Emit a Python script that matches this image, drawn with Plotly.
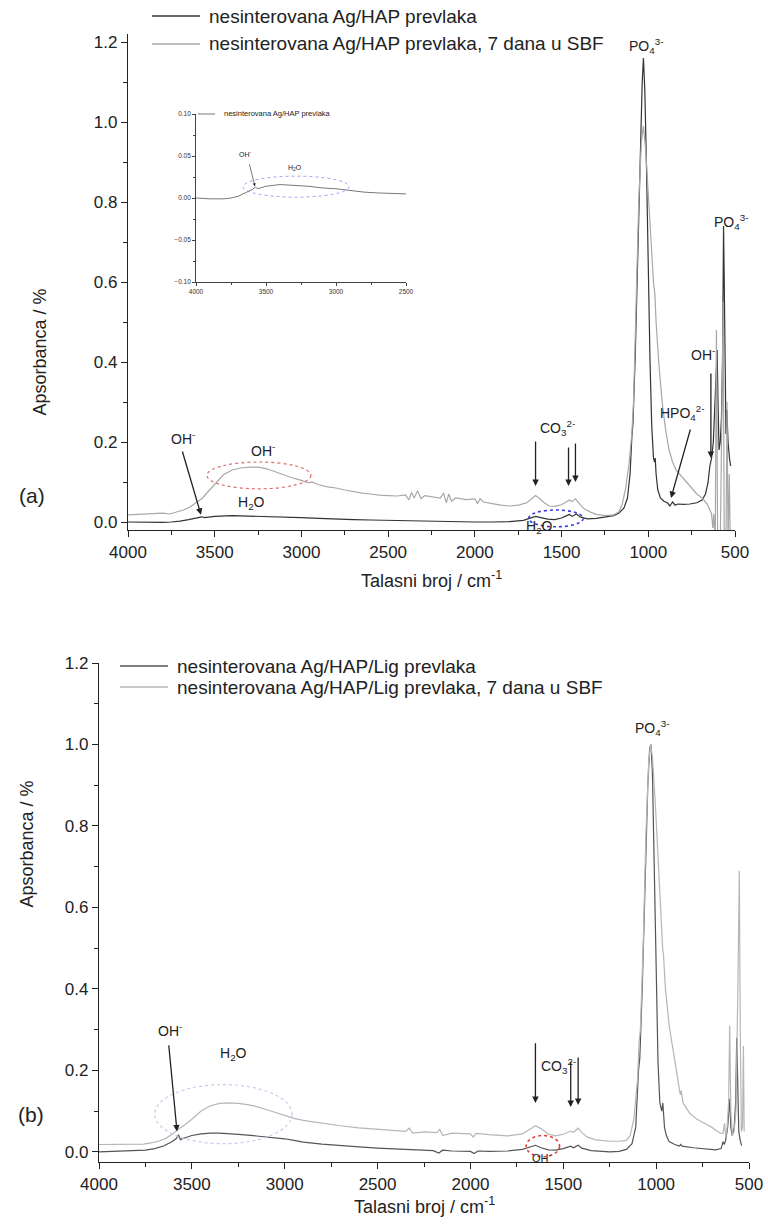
import plotly.graph_objects as go

W, H = 768, 1230
FONT = "Liberation Sans, Arial, sans-serif"
INK = "#222222"

# ---- (a) nesinterovana Ag/HAP prevlaka ----
wn_hap = [4000, 3900, 3800, 3750, 3700, 3650, 3600, 3575, 3560, 3500, 3400, 3300, 3200,
          3100, 3000, 2900, 2800, 2700, 2600, 2500, 2400, 2350, 2300, 2200, 2100, 2000,
          1900, 1800, 1720, 1680, 1650, 1620, 1580, 1540, 1500, 1470, 1455, 1440, 1425,
          1415, 1390, 1350, 1300, 1250, 1200, 1170, 1140, 1120, 1105, 1095, 1088, 1075,
          1060, 1045, 1035, 1028, 1020, 1010, 1000, 990, 980, 970, 964, 960, 955, 945,
          930, 910, 890, 875, 868, 860, 845, 830, 800, 760, 720, 690, 670, 655, 645, 635,
          625, 615, 608, 603, 598, 592, 585, 578, 572, 566, 562, 557, 552, 547, 540, 532,
          525]
abs_hap = [0.000, -0.001, -0.001, 0.000, 0.002, 0.006, 0.010, 0.013, 0.011, 0.014, 0.016,
           0.015, 0.014, 0.012, 0.011, 0.009, 0.007, 0.006, 0.005, 0.004, 0.003, 0.002,
           0.002, 0.001, 0.000, 0.000, 0.000, 0.001, 0.004, 0.010, 0.014, 0.011, 0.007,
           0.006, 0.010, 0.016, 0.019, 0.014, 0.018, 0.020, 0.012, 0.008, 0.009, 0.012,
           0.016, 0.022, 0.035, 0.060, 0.120, 0.210, 0.250, 0.420, 0.700, 0.950, 1.100,
           1.160, 1.080, 0.880, 0.620, 0.400, 0.240, 0.160, 0.150, 0.160, 0.120, 0.080,
           0.060, 0.052, 0.048, 0.040, 0.045, 0.050, 0.042, 0.045, 0.044, 0.045, 0.048,
           0.055, 0.070, 0.100, 0.140, 0.160, 0.200, 0.300, 0.380, 0.430, 0.300, 0.180,
           0.200, 0.260, 0.400, 0.740, 0.600, 0.320, 0.220, 0.280, 0.200, 0.160, 0.140]

# ---- (a) nesinterovana Ag/HAP prevlaka, 7 dana u SBF ----
wn_hap_sbf = [4000, 3900, 3800, 3760, 3720, 3680, 3640, 3600, 3570, 3540, 3500, 3450, 3400,
              3350, 3300, 3250, 3200, 3150, 3100, 3050, 3000, 2960, 2940, 2900, 2850, 2800,
              2750, 2700, 2650, 2600, 2550, 2500, 2450, 2400, 2380, 2365, 2350, 2330, 2310,
              2290, 2250, 2200, 2180, 2165, 2150, 2135, 2110, 2050, 2000, 1985, 1970, 1950,
              1900, 1850, 1800, 1750, 1700, 1670, 1650, 1630, 1600, 1570, 1540, 1500, 1470,
              1455, 1440, 1420, 1400, 1370, 1330, 1300, 1250, 1200, 1170, 1150, 1130, 1110,
              1095, 1085, 1070, 1055, 1040, 1028, 1015, 1000, 985, 970, 962, 955, 940, 920,
              900, 880, 860, 840, 800, 760, 720, 690, 660, 645, 635, 628, 622, 614, 607, 600,
              585, 568, 562, 552, 546, 540, 533, 527]
abs_hap_sbf = [0.018, 0.020, 0.022, 0.020, 0.025, 0.030, 0.038, 0.050, 0.060, 0.075, 0.095,
               0.118, 0.130, 0.135, 0.137, 0.137, 0.133, 0.125, 0.117, 0.110, 0.104, 0.098,
               0.100, 0.093, 0.088, 0.085, 0.080, 0.076, 0.072, 0.070, 0.067, 0.066, 0.065,
               0.068, 0.055, 0.074, 0.060, 0.078, 0.058, 0.066, 0.064, 0.060, 0.072, 0.048,
               0.070, 0.052, 0.060, 0.056, 0.058, 0.046, 0.058, 0.050, 0.046, 0.042, 0.040,
               0.042, 0.048, 0.060, 0.066, 0.060, 0.048, 0.040, 0.039, 0.043, 0.050, 0.055,
               0.051, 0.058, 0.047, 0.033, 0.024, 0.019, 0.016, 0.018, 0.025, 0.045, 0.085,
               0.150, 0.220, 0.300, 0.550, 0.800, 0.950, 0.990, 0.930, 0.820, 0.700, 0.600,
               0.570, 0.500, 0.400, 0.300, 0.230, 0.180, 0.150, 0.130, 0.110, 0.090, 0.070,
               0.060, 0.045, 0.030, 0.020, -0.015, 0.020, -0.060, 0.480, -0.060, -0.060,
               0.550, -0.060, -0.060, 0.300, -0.060, 0.120, -0.060]

# ---- (b) nesinterovana Ag/HAP/Lig prevlaka ----
wn_lig = [4000, 3900, 3800, 3750, 3700, 3650, 3610, 3585, 3572, 3562, 3540, 3500, 3450, 3400,
          3350, 3300, 3250, 3200, 3100, 3000, 2950, 2900, 2800, 2700, 2600, 2500, 2400, 2300,
          2200, 2170, 2150, 2100, 2000, 1980, 1960, 1900, 1800, 1720, 1680, 1650, 1620, 1580,
          1540, 1500, 1460, 1445, 1420, 1400, 1350, 1300, 1250, 1200, 1160, 1130, 1110, 1095,
          1088, 1075, 1060, 1045, 1035, 1028, 1020, 1010, 1000, 990, 980, 970, 964, 960, 955,
          945, 930, 900, 875, 868, 860, 800, 720, 680, 650, 640, 633, 625, 615, 608, 603, 598,
          590, 580, 572, 566, 561, 555, 548, 540]
abs_lig = [0.000, 0.001, 0.002, 0.004, 0.008, 0.015, 0.024, 0.032, 0.042, 0.030, 0.034, 0.040,
           0.044, 0.046, 0.046, 0.045, 0.043, 0.041, 0.037, 0.032, 0.028, 0.024, 0.019, 0.015,
           0.012, 0.009, 0.007, 0.005, 0.003, -0.003, 0.004, 0.002, 0.001, -0.004, 0.002,
           0.001, 0.002, 0.006, 0.012, 0.016, 0.010, 0.005, 0.004, 0.008, 0.014, 0.010, 0.016,
           0.009, 0.003, 0.001, 0.000, 0.001, 0.006, 0.020, 0.060, 0.200, 0.230, 0.400, 0.650,
           0.900, 0.990, 1.000, 0.930, 0.720, 0.450, 0.220, 0.120, 0.100, 0.120, 0.100, 0.060,
           0.040, 0.025, 0.018, 0.014, 0.018, 0.014, 0.010, 0.006, 0.005, 0.008, 0.025, 0.018,
           0.030, 0.060, 0.120, 0.130, 0.060, 0.040, 0.060, 0.120, 0.280, 0.180, 0.050, 0.030,
           0.015]

# ---- (b) nesinterovana Ag/HAP/Lig prevlaka, 7 dana u SBF ----
wn_lig_sbf = [4000, 3900, 3800, 3760, 3720, 3680, 3640, 3600, 3575, 3550, 3500, 3450, 3400,
              3350, 3300, 3250, 3200, 3150, 3100, 3050, 3000, 2950, 2900, 2800, 2700, 2600,
              2500, 2400, 2350, 2330, 2310, 2250, 2180, 2165, 2150, 2100, 2000, 1985, 1970,
              1900, 1800, 1720, 1680, 1650, 1620, 1580, 1540, 1500, 1460, 1445, 1420, 1400,
              1370, 1330, 1300, 1250, 1200, 1160, 1140, 1120, 1100, 1092, 1085, 1070, 1055,
              1040, 1030, 1020, 1005, 990, 975, 965, 960, 950, 930, 910, 890, 875, 870, 865,
              855, 820, 780, 740, 700, 670, 650, 640, 632, 625, 618, 610, 604, 598, 590, 580,
              570, 560, 552, 547, 541, 535, 530, 526]
abs_lig_sbf = [0.018, 0.019, 0.020, 0.019, 0.022, 0.026, 0.033, 0.045, 0.055, 0.062, 0.080,
               0.100, 0.113, 0.119, 0.120, 0.119, 0.116, 0.111, 0.104, 0.097, 0.090, 0.082,
               0.077, 0.070, 0.064, 0.059, 0.055, 0.052, 0.050, 0.058, 0.046, 0.049, 0.047,
               0.055, 0.040, 0.046, 0.044, 0.036, 0.045, 0.042, 0.039, 0.044, 0.056, 0.064,
               0.057, 0.043, 0.039, 0.043, 0.051, 0.048, 0.058, 0.047, 0.036, 0.030, 0.028,
               0.026, 0.026, 0.028, 0.040, 0.080, 0.180, 0.270, 0.300, 0.500, 0.780, 0.960,
               1.000, 0.970, 0.860, 0.720, 0.580, 0.500, 0.480, 0.400, 0.310, 0.250, 0.190,
               0.150, 0.140, 0.150, 0.120, 0.095, 0.080, 0.070, 0.060, 0.050, 0.045, 0.045,
               0.070, 0.035, 0.060, 0.120, 0.310, 0.100, 0.040, 0.050, 0.100, 0.400, 0.690,
               0.300, 0.050, 0.060, 0.260, 0.050]

x_ticks = [4000, 3500, 3000, 2500, 2000, 1500, 1000, 500]
y_ticks = [0.0, 0.2, 0.4, 0.6, 0.8, 1.0, 1.2]
inset_x_ticks = [4000, 3500, 3000, 2500]
inset_y_ticks = [-0.10, -0.05, 0.00, 0.05, 0.10]

LBL_HAP = "nesinterovana Ag/HAP prevlaka"
LBL_HAP_SBF = "nesinterovana Ag/HAP prevlaka, 7 dana u SBF"
LBL_LIG = "nesinterovana Ag/HAP/Lig prevlaka"
LBL_LIG_SBF = "nesinterovana Ag/HAP/Lig prevlaka, 7 dana u SBF"

C_HAP, C_HAP_SBF = "#333333", "#a8a8a8"
C_LIG, C_LIG_SBF = "#555555", "#b6b6b6"
C_INSET = "#555555"


def px_x(p):
    return p / W


def px_y(p):
    return 1 - p / H


fig = go.Figure()


def line(x, y, name, color, xa, ya, width=1.2):
    fig.add_trace(go.Scatter(x=x, y=y, mode="lines", name=name, xaxis=xa, yaxis=ya,
                             showlegend=False, line=dict(color=color, width=width)))


line(wn_hap, abs_hap, LBL_HAP, C_HAP, "x", "y")
line(wn_hap_sbf, abs_hap_sbf, LBL_HAP_SBF, C_HAP_SBF, "x", "y")
line(wn_lig, abs_lig, LBL_LIG, C_LIG, "x2", "y2")
line(wn_lig_sbf, abs_lig_sbf, LBL_LIG_SBF, C_LIG_SBF, "x2", "y2")
line(wn_hap, abs_hap, LBL_HAP, C_INSET, "x3", "y3", width=0.8)

axis_common = dict(showline=True, linecolor=INK, linewidth=1.4, ticks="outside",
                   ticklen=6, tickwidth=1.2, tickcolor=INK, showgrid=False,
                   zeroline=False, mirror=False, automargin=False,
                   tickfont=dict(family=FONT, size=17, color=INK))
minor_x = dict(dtick=250, ticklen=4, tickwidth=1.2, tickcolor=INK, ticks="outside")
minor_y = dict(dtick=0.1, ticklen=4, tickwidth=1.2, tickcolor=INK, ticks="outside")
inset_axis = dict(showline=True, linecolor="#444", linewidth=0.8, ticks="outside",
                  ticklen=3, tickwidth=0.8, tickcolor="#444", showgrid=False,
                  zeroline=False, automargin=False,
                  tickfont=dict(family=FONT, size=6.5, color="#333"))

fig.update_layout(
    width=W, height=H, margin=dict(l=0, r=0, t=0, b=0, autoexpand=False),
    paper_bgcolor="white", plot_bgcolor="white",
    font=dict(family=FONT, color=INK),
    showlegend=False,
    xaxis=dict(axis_common, domain=[px_x(128), px_x(735)], range=[4000, 500],
               tickvals=x_ticks, minor=minor_x, anchor="y"),
    yaxis=dict(axis_common, domain=[px_y(530), px_y(34)], range=[-0.02, 1.22],
               tickvals=y_ticks, tickformat=".1f", minor=minor_y, anchor="x"),
    xaxis2=dict(axis_common, domain=[px_x(99), px_x(749)], range=[4000, 500],
                tickvals=x_ticks, minor=minor_x, anchor="y2"),
    yaxis2=dict(axis_common, domain=[px_y(1162), px_y(663)], range=[-0.025, 1.2],
                tickvals=y_ticks, tickformat=".1f", minor=minor_y, anchor="x2"),
    xaxis3=dict(inset_axis, domain=[px_x(196), px_x(406)], range=[4000, 2500],
                tickvals=inset_x_ticks, anchor="y3",
                minor=dict(dtick=250, ticklen=2, tickcolor="#444", ticks="outside")),
    yaxis3=dict(inset_axis, domain=[px_y(282), px_y(114)], range=[-0.10, 0.10],
                tickvals=inset_y_ticks, tickformat=".2f", anchor="x3",
                minor=dict(dtick=0.025, ticklen=2, tickcolor="#444", ticks="outside")),
)


def text(s, x, y, xr="paper", yr="paper", size=14, color=INK, **kw):
    fig.add_annotation(text=s, x=x, y=y, xref=xr, yref=yr, showarrow=False,
                       font=dict(family=FONT, size=size, color=color), **kw)


def arrow(x, y, ax, ay, xr="x", yr="y", width=1.3):
    fig.add_annotation(x=x, y=y, ax=ax, ay=ay, xref=xr, yref=yr, axref=xr, ayref=yr,
                       text="", showarrow=True, arrowhead=2, arrowsize=1,
                       arrowwidth=width, arrowcolor=INK)


def ellipse(x0, x1, y0, y1, color, xr="x", yr="y", width=1.2):
    fig.add_shape(type="circle", xref=xr, yref=yr, x0=x0, x1=x1, y0=y0, y1=y1,
                  line=dict(color=color, width=width, dash="dot"))


def legend_row(name, color, x0, x1, y, size, width=1.3):
    # legend entry: sample line + label, placed in pixel terms
    fig.add_shape(type="line", xref="paper", yref="paper", x0=px_x(x0), x1=px_x(x1),
                  y0=px_y(y), y1=px_y(y), line=dict(color=color, width=width))
    text(name, px_x(x1 + 7), px_y(y), size=size, xanchor="left", yanchor="middle")


# legends
legend_row(LBL_HAP, C_HAP, 152, 200, 16, 19)
legend_row(LBL_HAP_SBF, C_HAP_SBF, 152, 200, 44, 19)
legend_row(LBL_LIG, C_LIG, 120, 168, 666, 19)
legend_row(LBL_LIG_SBF, C_LIG_SBF, 120, 168, 687, 19)
legend_row(LBL_HAP, C_INSET, 198, 215, 114, 7.5, width=0.8)

# axis titles
XT = "Talasni broj / cm<sup>-1</sup>"
YT = "Apsorbanca / %"
text(XT, px_x(431), px_y(579), size=18)
text(YT, px_x(27), px_y(287), size=18, textangle=-90)
text(XT, px_x(424), px_y(1219), size=18)
text(YT, px_x(14), px_y(910), size=18, textangle=-90)
text("(a)", px_x(17), px_y(495), size=21)
text("(b)", px_x(16), px_y(1128), size=21)

OH = "OH<sup>-</sup>"
H2O = "H<sub>2</sub>O"
PO4 = "PO<sub>4</sub><sup>3-</sup>"
CO3 = "CO<sub>3</sub><sup>2-</sup>"
HPO4 = "HPO<sub>4</sub><sup>2-</sup>"

# ---- panel (a) annotations ----
text(OH, 3683, 0.21, "x", "y")
arrow(3579, 0.018, 3689, 0.18)
text(OH, 3222, 0.18, "x", "y")
ellipse(3545, 2945, 0.083, 0.150, "#e07070")
text(H2O, 3290, 0.048, "x", "y")
text(CO3, 1525, 0.235, "x", "y")
arrow(1650, 0.09, 1650, 0.205)
arrow(1460, 0.09, 1460, 0.19)
arrow(1420, 0.10, 1420, 0.20)
ellipse(1690, 1375, -0.012, 0.03, "#3a3ae0", width=1.6)
text(H2O, 1625, -0.012, "x", "y")
text(HPO4, 800, 0.272, "x", "y")
arrow(869, 0.06, 755, 0.235)
text(OH, 685, 0.42, "x", "y")
arrow(639, 0.16, 639, 0.375)
text(PO4, 1013, 1.19, "x", "y")
text(PO4, px_x(750), px_y(210))

# inset
text(OH, 3643, 0.052, "x3", "y3", size=7)
arrow(3579, 0.014, 3621, 0.042, xr="x3", yr="y3", width=0.6)
text(H2O, 3293, 0.036, "x3", "y3", size=7)
ellipse(3664, 2907, 0.001, 0.026, "#8c8cf0", xr="x3", yr="y3", width=0.8)

# ---- panel (b) annotations ----
text(OH, 3620, 0.30, "x2", "y2")
arrow(3580, 0.05, 3625, 0.265, xr="x2", yr="y2")
text(H2O, 3274, 0.24, "x2", "y2")
ellipse(3700, 2960, 0.02, 0.165, "#c8c8f0", xr="x2", yr="y2")
text(CO3, 1525, 0.21, "x2", "y2")
arrow(1650, 0.12, 1650, 0.27, xr="x2", yr="y2")
arrow(1460, 0.11, 1460, 0.225, xr="x2", yr="y2")
arrow(1420, 0.115, 1420, 0.235, xr="x2", yr="y2")
ellipse(1700, 1520, -0.012, 0.04, "#e04040", xr="x2", yr="y2", width=1.6)
text(OH, 1612, -0.012, "x2", "y2", size=11)
text(PO4, 1020, 1.04, "x2", "y2")

# drop the page's default 8px body margin so the figure fills the window exactly
fig.write_html("out.html", config={"displayModeBar": False},
               post_script="document.body.style.margin='0';")
